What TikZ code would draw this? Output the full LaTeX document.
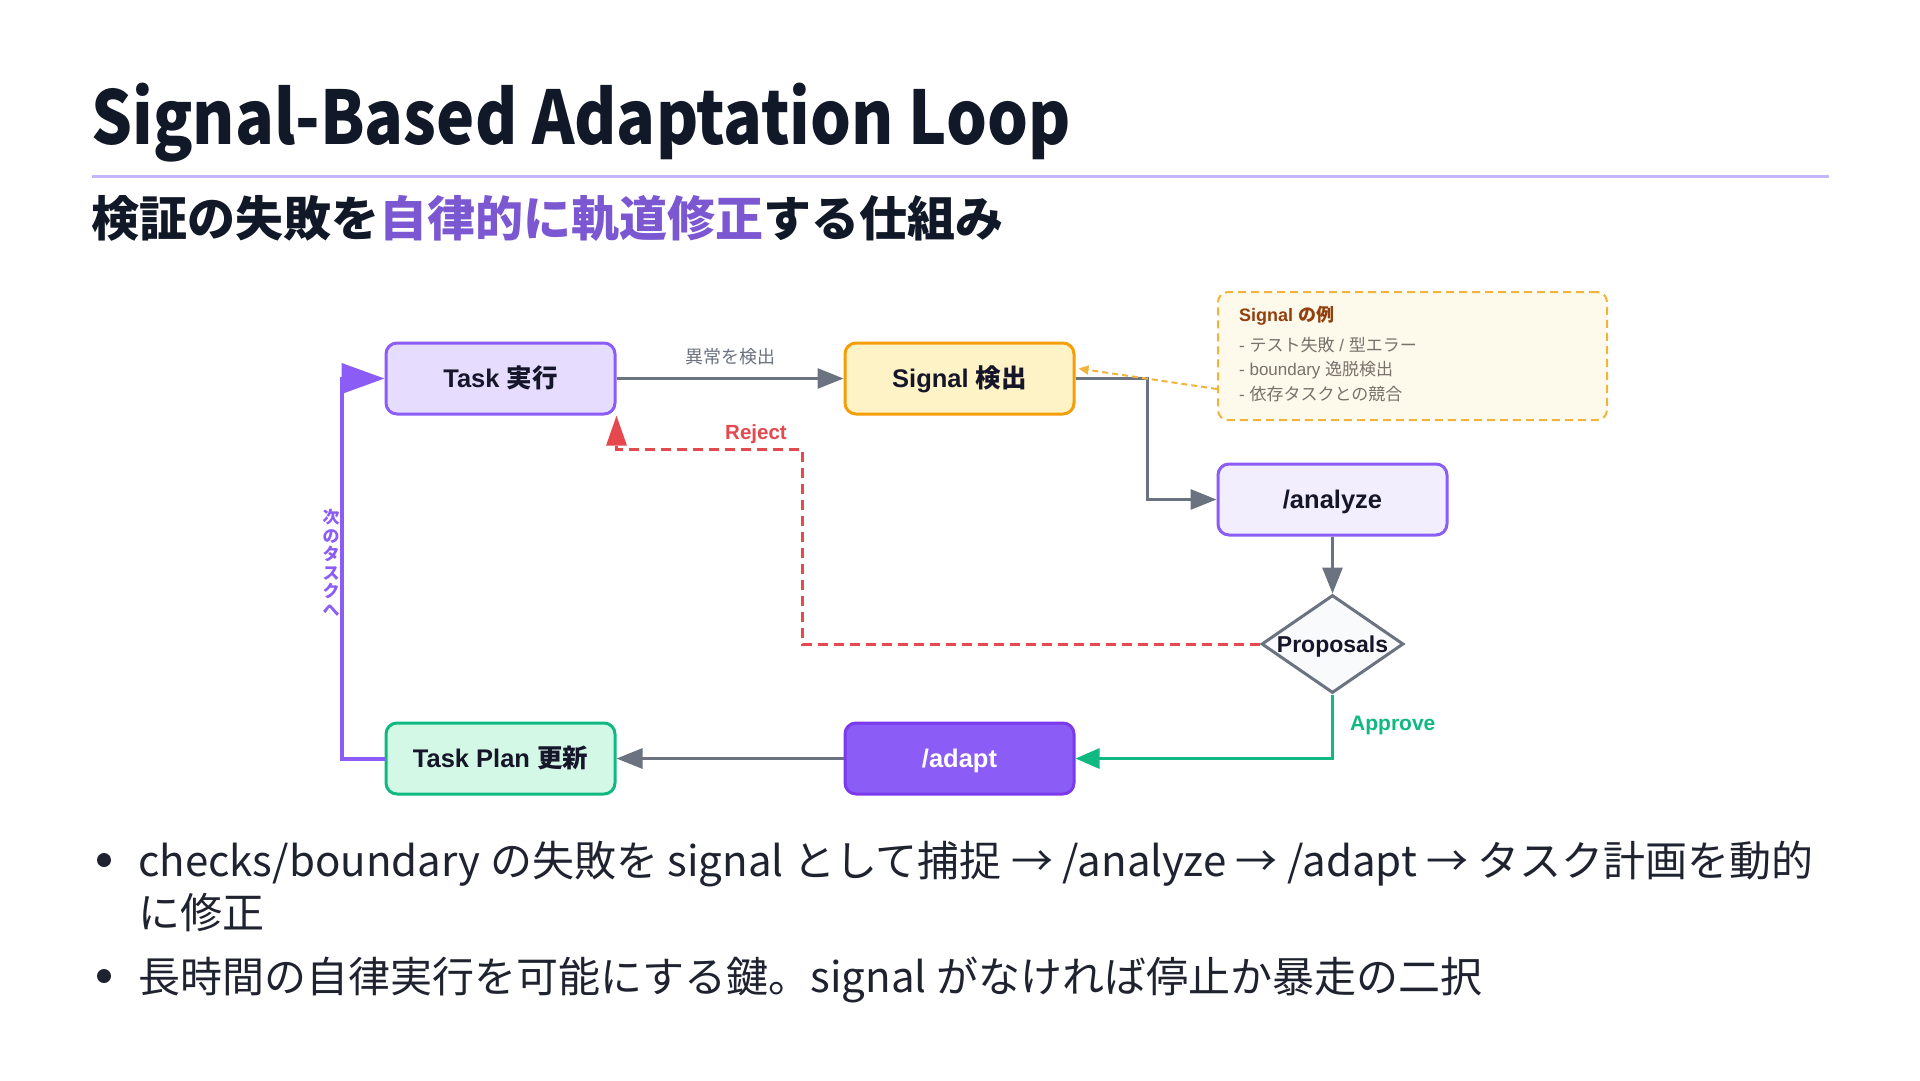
\documentclass[tikz,border=0pt]{standalone}
\usepackage{fontspec}
\setmainfont{Noto Sans CJK JP}
\newfontfamily\dgfont{Liberation Sans}
\newfontfamily\jpfont{Noto Sans CJK JP}
\newfontfamily\titlefont[FakeStretch=0.87]{Noto Sans CJK JP}
\usetikzlibrary{arrows.meta,shapes.geometric,calc}
\newcommand\jt[1]{{\jpfont #1}}
\definecolor{titlec}{HTML}{111827}
\definecolor{bodyc}{HTML}{1F2330}
\definecolor{rulec}{HTML}{C4B5FD}
\definecolor{subp}{HTML}{7B57D1}
\definecolor{ink}{HTML}{16162A}
\definecolor{grayc}{HTML}{6B7280}
\definecolor{purp}{HTML}{8B5CF6}
\definecolor{purpd}{HTML}{7C3AED}
\definecolor{taskf}{HTML}{E6DCFE}
\definecolor{anaf}{HTML}{F2EEFE}
\definecolor{sigf}{HTML}{FEF3C7}
\definecolor{sigb}{HTML}{F59E0B}
\definecolor{planf}{HTML}{D3F8E5}
\definecolor{greenc}{HTML}{10B981}
\definecolor{redc}{HTML}{E5484D}
\definecolor{propf}{HTML}{F8FAFC}
\definecolor{notef}{HTML}{FEFAEB}
\definecolor{noteb}{HTML}{F0B43C}
\definecolor{notet}{HTML}{92400E}
\definecolor{notegray}{HTML}{78716C}
\tikzset{
  box/.style={draw, line width=3pt, rounded corners=11pt, minimum width=229pt, minimum height=71pt, inner sep=0pt, text=ink,
    text height=18pt, text depth=0pt,
    font=\dgfont\bfseries\fontsize{25.5}{30}\selectfont},
  garrow/.style={draw=grayc, line width=3pt, -{Triangle[length=26pt,width=20pt]}},
  lbl/.style={inner sep=0pt},
}
\begin{document}
\begin{tikzpicture}[x=1pt,y=-1pt]
\fill[white] (0,0) rectangle (1920,1080);
\useasboundingbox (0,0) rectangle (1920,1080);

% title
\node[lbl, anchor=base west, font=\titlefont\bfseries\fontsize{74}{80}\selectfont, text=titlec] (title) at (91,144) {Signal-Based Adaptation Loop};
\draw[rulec, line width=3pt] (92,176) -- (1829,176);
\node[lbl, anchor=base west, font=\bfseries\fontsize{48}{52}\selectfont, text=titlec] (sub) at (91,236) {検証の失敗を\textcolor{subp}{自律的に軌道修正}する仕組み};

% diagram nodes
\node[box, fill=taskf, draw=purp] (task) at (500.5,378.5) {Task \jt{実行}};
\node[box, fill=sigf, draw=sigb] (sig) at (959.5,378.5) {Signal \jt{検出}};
\node[box, fill=anaf, draw=purp] (ana) at (1332.5,499.5) {/analyze};
\node[draw=grayc, fill=propf, line width=3pt, shape=diamond, minimum width=142pt, minimum height=98pt, inner sep=0pt,
  label={[text=ink, text height=16.5pt, text depth=0pt, font=\dgfont\bfseries\fontsize{23}{26}\selectfont]center:Proposals}] (prop) at (1332.5,644) {};
\node[box, fill=planf, draw=greenc] (plan) at (500.5,758.5) {Task Plan \jt{更新}};
\node[box, fill=purp, draw=purpd, text=white] (adapt) at (959.5,758.5) {/adapt};

\node[draw=noteb, fill=notef, line width=2pt, dash pattern=on 8pt off 5pt, rounded corners=10pt, minimum width=389pt, minimum height=128pt] (note) at (1412.5,356) {};
\node[lbl, anchor=west, text=notet, font=\dgfont\bfseries\fontsize{18}{20}\selectfont] (nt) at ($(note.west)+(22,-40)$) {Signal \jt{の例}};
\node[lbl, anchor=west, text=notegray, font=\dgfont\fontsize{17}{20}\selectfont] (n1) at ($(note.west)+(22,-11)$) {- \jt{テスト失敗} / \jt{型エラー}};
\node[lbl, anchor=west, text=notegray, font=\dgfont\fontsize{17}{20}\selectfont] (n2) at ($(note.west)+(22,14)$) {- boundary \jt{逸脱検出}};
\node[lbl, anchor=west, text=notegray, font=\dgfont\fontsize{17}{20}\selectfont] (n3) at ($(note.west)+(22,38)$) {- \jt{依存タスクとの競合}};

% connectors
\draw[garrow] (task.east) -- node[lbl, above=12pt, text=grayc, font=\jpfont\fontsize{18}{20}\selectfont] (l0) {異常を検出} (sig.west);
\draw[garrow] (sig.east) -- ++(72,0) |- (ana.west);
\draw[garrow] (ana.south) -- (prop.north);
\coordinate (rj) at (802,449);
\draw[redc, line width=3pt, dash pattern=on 10pt off 6pt, -{Triangle[length=30pt,width=20pt]}] (prop.west) -| (rj) -- (rj -| task.east) -- (task.south east);
\node[lbl, text=redc, font=\dgfont\bfseries\fontsize{20.5}{24}\selectfont] (rl) at (756,434) {Reject};
\draw[greenc, line width=3pt, -{Triangle[length=24pt,width=20pt]}] (prop.south) |- (adapt.east);
\node[lbl, anchor=west, text=greenc, font=\dgfont\bfseries\fontsize{21}{24}\selectfont] (al) at (1350,725) {Approve};
\draw[garrow] (adapt.west) -- (plan.east);
\draw[purp, line width=4pt, -{Triangle[length=43pt,width=30pt]}] (plan.west) -- ++(-43,0) |- (task.west);
\node[lbl, align=center, text=purp, font=\jpfont\bfseries\fontsize{17}{18.5}\selectfont] (nx) at (331,563) {次\\の\\タ\\ス\\ク\\へ};
\draw[noteb, line width=2pt, dash pattern=on 6pt off 4pt, -{Triangle[length=10pt,width=9pt]}] ($(note.west)+(0,33)$) -- ($(sig.east)+(3,-10)$);

% bullets
\fill[bodyc] (104,860) circle (7);
\fill[bodyc] (104,976) circle (7);
\node[lbl, anchor=base west, text=bodyc, font=\fontsize{42}{50}\selectfont] (b1) at (138,876) {checks/boundary の失敗を signal として捕捉 → /analyze → /adapt → タスク計画を動的};
\node[lbl, anchor=base west, text=bodyc, font=\fontsize{42}{50}\selectfont] (b1b) at (138,928) {に修正};
\node[lbl, anchor=base west, text=bodyc, font=\fontsize{42}{50}\selectfont] (b2) at (138,992) {長時間の自律実行を可能にする鍵。signal がなければ停止か暴走の二択};
\end{tikzpicture}
\end{document}
